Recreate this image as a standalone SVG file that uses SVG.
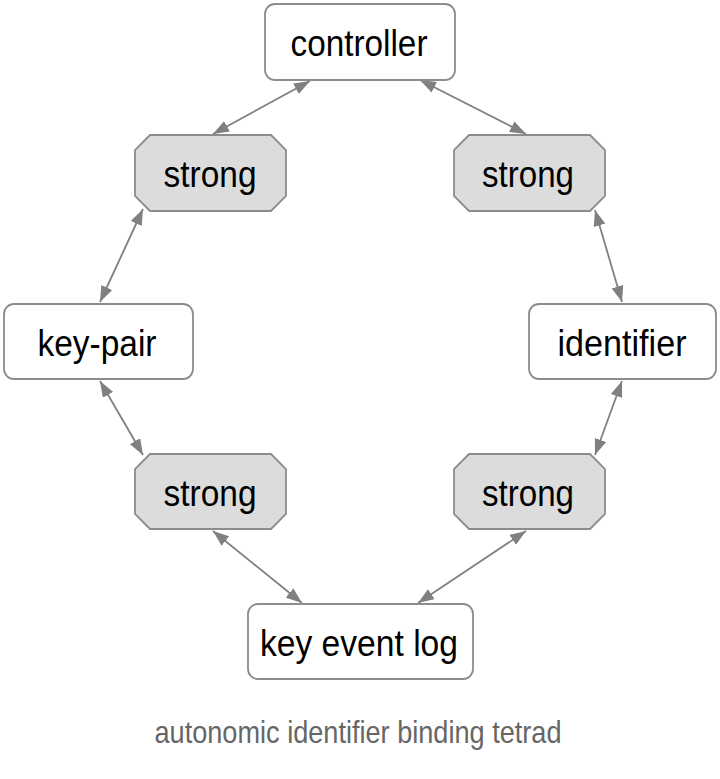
<svg xmlns="http://www.w3.org/2000/svg" width="720" height="779" viewBox="0 0 720 779">
<style>
.box{fill:#ffffff;stroke:#8c8c8c;stroke-width:1.8}
.oct{fill:#dcdcdc;stroke:#8c8c8c;stroke-width:1.8}
.lbl{font-family:"Liberation Sans",Arial,sans-serif;font-size:37px;fill:#000;text-anchor:middle}
.cap{font-family:"Liberation Sans",Arial,sans-serif;font-size:32px;fill:#666666;text-anchor:middle}
.edge{stroke:#808080;stroke-width:1.8;fill:none;marker-start:url(#ah);marker-end:url(#ah)}
</style>
<defs>
<marker id="ah" viewBox="0 0 16 12" refX="16" refY="6" markerWidth="16" markerHeight="12" markerUnits="userSpaceOnUse" orient="auto-start-reverse">
<path d="M0,0 L16,6 L0,12 z" fill="#808080"/>
</marker>
</defs>
<rect width="720" height="779" fill="#ffffff"/>
<g id="connectors">
<line class="edge" x1="310" y1="81" x2="213" y2="134"/>
<line class="edge" x1="420" y1="80" x2="526" y2="134"/>
<line class="edge" x1="143" y1="209" x2="100" y2="302"/>
<line class="edge" x1="595" y1="210" x2="622" y2="302"/>
<line class="edge" x1="100" y1="381" x2="143" y2="455"/>
<line class="edge" x1="622" y1="381" x2="595" y2="455"/>
<line class="edge" x1="213" y1="531" x2="302" y2="603"/>
<line class="edge" x1="526" y1="531" x2="418" y2="603"/>
</g>
<g id="controller">
<rect class="box" x="265" y="4" width="190" height="76" rx="10"/>
<text class="lbl" x="359" y="56" textLength="137" lengthAdjust="spacingAndGlyphs">controller</text>
</g>
<g id="strong-tl">
<polygon class="oct" points="150,135 271,135 286,150 286,196 271,211 150,211 135,196 135,150"/>
<text class="lbl" x="210" y="187" textLength="93" lengthAdjust="spacingAndGlyphs">strong</text>
</g>
<g id="strong-tr">
<polygon class="oct" points="469,135 590,135 605,150 605,196 590,211 469,211 454,196 454,150"/>
<text class="lbl" x="528" y="187" textLength="92" lengthAdjust="spacingAndGlyphs">strong</text>
</g>
<g id="key-pair">
<rect class="box" x="4" y="304" width="189" height="75" rx="10"/>
<text class="lbl" x="97" y="356" textLength="119" lengthAdjust="spacingAndGlyphs">key-pair</text>
</g>
<g id="identifier">
<rect class="box" x="529" y="304" width="187" height="75" rx="10"/>
<text class="lbl" x="622" y="356" textLength="129" lengthAdjust="spacingAndGlyphs">identifier</text>
</g>
<g id="strong-bl">
<polygon class="oct" points="150,454 271,454 286,469 286,514 271,529 150,529 135,514 135,469"/>
<text class="lbl" x="210" y="506" textLength="93" lengthAdjust="spacingAndGlyphs">strong</text>
</g>
<g id="strong-br">
<polygon class="oct" points="469,454 590,454 605,469 605,514 590,529 469,529 454,514 454,469"/>
<text class="lbl" x="528" y="506" textLength="92" lengthAdjust="spacingAndGlyphs">strong</text>
</g>
<g id="key-event-log">
<rect class="box" x="248" y="604" width="225" height="75" rx="10"/>
<text class="lbl" x="359" y="656" textLength="198" lengthAdjust="spacingAndGlyphs">key event log</text>
</g>
<g id="caption">
<text class="cap" x="358" y="743" textLength="407" lengthAdjust="spacingAndGlyphs">autonomic identifier binding tetrad</text>
</g>
</svg>
